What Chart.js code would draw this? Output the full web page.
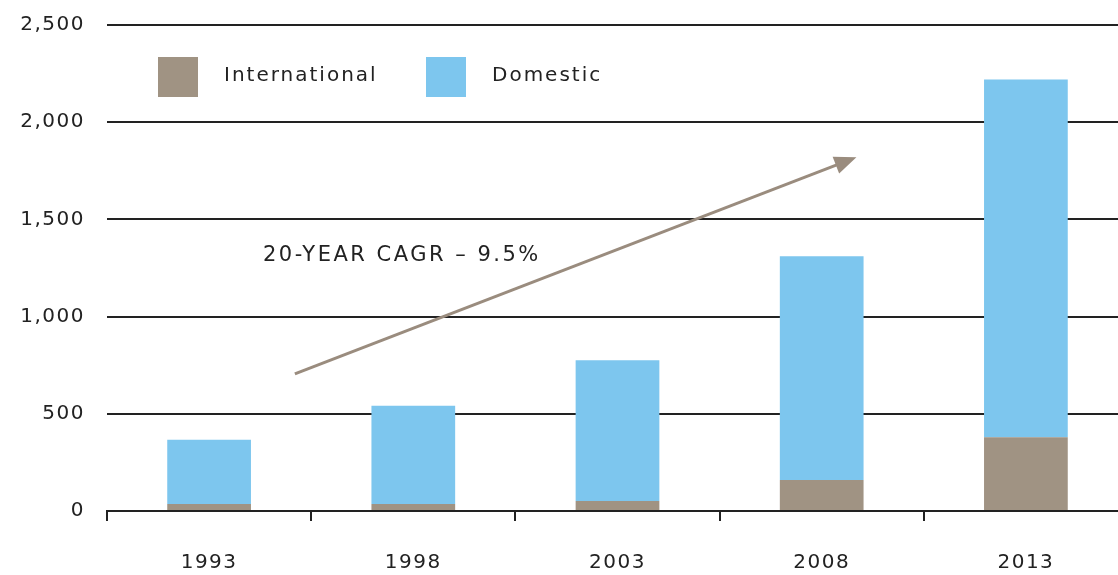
<!DOCTYPE html>
<html lang="en">
<head>
  <meta charset="UTF-8">
  <title>International vs Domestic</title>
  <script src="https://cdn.jsdelivr.net/npm/chart.js"></script>
  <style>
    html, body { margin: 0; padding: 0; background: #fff; overflow: hidden; }
    #wrap { width: 1128px; height: 575px; }
  </style>
</head>
<body>
  <div id="wrap"><canvas id="growthChart" width="1128" height="575"></canvas></div>

  <script>
    // data
    const years = ['1993', '1998', '2003', '2008', '2013'];
    const international = [36, 36, 51, 160, 380];
    const domestic = [330, 505, 725, 1150, 1840];
    const seriesNames = ['International', 'Domestic'];
    const yTicks = [0, 500, 1000, 1500, 2000, 2500];
    const yTickLabels = ['0', '500', '1,000', '1,500', '2,000', '2,500'];
    const cagrText = '20-YEAR CAGR \u2013 9.5%';
    // trend arrow, in data units (category index, value)
    const arrowFrom = [0.42, 705];
    const arrowTo = [3.17, 1820];

    const brown = '#a09383';
    const blue = '#7dc6ee';
    const ink = '#222222';
    const font = '"DejaVu Sans", sans-serif';

    const spacing = {
      id: 'spacing',
      beforeDraw(chart) {
        chart.ctx.letterSpacing = '1.5px';
      }
    };

    const extras = {
      id: 'extras',
      afterDraw(chart) {
        const ctx = chart.ctx;
        const x = chart.scales.x, y = chart.scales.y;
        ctx.save();

        // legend inside the plot
        const items = [[158, brown, seriesNames[0]], [426, blue, seriesNames[1]]];
        ctx.font = '20px ' + font;
        ctx.letterSpacing = '2px';
        ctx.textBaseline = 'middle';
        ctx.textAlign = 'left';
        items.forEach(function(it) {
          ctx.fillStyle = it[1];
          ctx.fillRect(it[0], 57, 40, 40);
          ctx.fillStyle = ink;
          ctx.fillText(it[2], it[0] + 66, 76);
        });

        // trend arrow
        const x1 = x.getPixelForValue(arrowFrom[0]), y1 = y.getPixelForValue(arrowFrom[1]);
        const x2 = x.getPixelForValue(arrowTo[0]), y2 = y.getPixelForValue(arrowTo[1]);
        const ang = Math.atan2(y2 - y1, x2 - x1);
        const head = 22, half = 9;
        ctx.strokeStyle = '#9a8c7e';
        ctx.fillStyle = '#9a8c7e';
        ctx.lineWidth = 3;
        ctx.beginPath();
        ctx.moveTo(x1, y1);
        ctx.lineTo(x2 - head * 0.8 * Math.cos(ang), y2 - head * 0.8 * Math.sin(ang));
        ctx.stroke();
        ctx.beginPath();
        ctx.moveTo(x2, y2);
        ctx.lineTo(x2 - head * Math.cos(ang) + half * Math.sin(ang), y2 - head * Math.sin(ang) - half * Math.cos(ang));
        ctx.lineTo(x2 - head * Math.cos(ang) - half * Math.sin(ang), y2 - head * Math.sin(ang) + half * Math.cos(ang));
        ctx.closePath();
        ctx.fill();

        // CAGR note
        ctx.font = '21px ' + font;
        ctx.letterSpacing = '2.5px';
        ctx.fillStyle = ink;
        ctx.textAlign = 'left';
        ctx.fillText(cagrText, 263, 256);

        ctx.restore();
      }
    };

    const ctx = document.getElementById('growthChart').getContext('2d');
    new Chart(ctx, {
      type: 'bar',
      data: {
        labels: years,
        datasets: [
          { label: seriesNames[0], data: international, backgroundColor: brown },
          { label: seriesNames[1], data: domestic, backgroundColor: blue }
        ]
      },
      options: {
        responsive: false,
        animation: false,
        layout: { padding: { top: 25, left: 0, right: 0, bottom: 0 } },
        datasets: {
          bar: { categoryPercentage: 0.41, barPercentage: 1, borderWidth: 0 }
        },
        plugins: {
          legend: { display: false },
          tooltip: { enabled: false }
        },
        scales: {
          x: {
            stacked: true,
            afterFit: function(s) { s.height = 64; s.paddingLeft = 0; s.paddingRight = 0; },
            grid: {
              offset: true,
              drawOnChartArea: false,
              drawTicks: true,
              tickLength: 10,
              color: ink,
              lineWidth: 2
            },
            border: { display: true, color: ink, width: 2 },
            ticks: {
              color: ink,
              padding: 30,
              font: { family: font, size: 20 }
            }
          },
          y: {
            stacked: true,
            min: 0,
            max: 2500,
            afterFit: function(s) { s.width = 107; s.paddingTop = 0; s.paddingBottom = 0; },
            afterBuildTicks: function(s) {
              s.ticks = yTicks.map(function(v) { return { value: v }; });
            },
            grid: {
              drawTicks: false,
              color: function(c) { return c.tick && c.tick.value === 0 ? 'rgba(0,0,0,0)' : ink; },
              lineWidth: 2
            },
            border: { display: false },
            ticks: {
              color: ink,
              padding: 22,
              font: { family: font, size: 20 },
              callback: function(v) { return yTickLabels[yTicks.indexOf(v)]; }
            }
          }
        }
      },
      plugins: [spacing, extras]
    });
  </script>
</body>
</html>
